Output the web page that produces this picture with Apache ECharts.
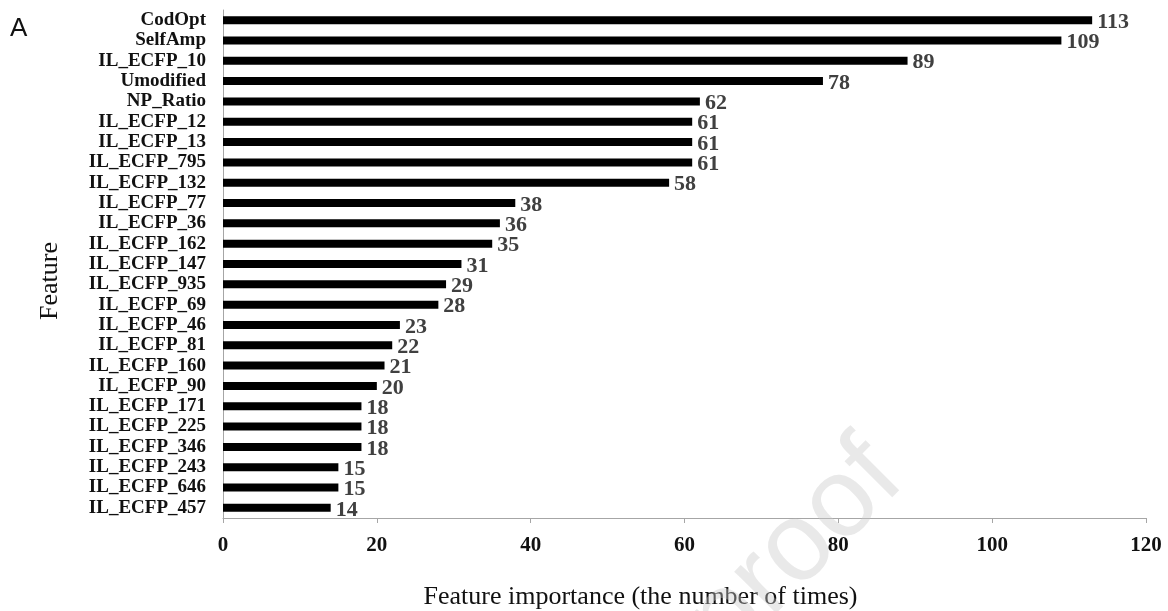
<!DOCTYPE html>
<html>
<head>
<meta charset="utf-8">
<script src="https://cdn.jsdelivr.net/npm/echarts@6/dist/echarts.min.js"></script>
<style>html,body{margin:0;padding:0;background:#fff}#c{width:1168px;height:611px}</style>
</head>
<body>
<div id="c"></div>
<script>
const categories = ["CodOpt","SelfAmp","IL_ECFP_10","Umodified","NP_Ratio","IL_ECFP_12","IL_ECFP_13","IL_ECFP_795","IL_ECFP_132","IL_ECFP_77","IL_ECFP_36","IL_ECFP_162","IL_ECFP_147","IL_ECFP_935","IL_ECFP_69","IL_ECFP_46","IL_ECFP_81","IL_ECFP_160","IL_ECFP_90","IL_ECFP_171","IL_ECFP_225","IL_ECFP_346","IL_ECFP_243","IL_ECFP_646","IL_ECFP_457"];
const importance = [113,109,89,78,62,61,61,61,58,38,36,35,31,29,28,23,22,21,20,18,18,18,15,15,14];
const xTicks = [0,20,40,60,80,100,120];

const serif = '"Liberation Serif","Times New Roman",serif';
const chart = echarts.init(document.getElementById('c'), null, {renderer:'canvas'});
chart.setOption({
  animation:false,
  backgroundColor:'#fff',
  graphic:[
    {type:'text', left:10, top:16, style:{text:'A', font:'26px "Liberation Sans",Arial,sans-serif', fill:'#111'}},
    {type:'text', x:925, y:500, rotation:Math.PI/4, z:100,
      style:{text:'Journal Pre-proof', font:'112px "Liberation Sans",Arial,sans-serif', fill:'rgba(200,200,200,0.4)', textAlign:'right', textVerticalAlign:'bottom'}}
  ],
  grid:{left:223, right:22, top:10, bottom:93, containLabel:false, outerBoundsMode:'none'},
  xAxis:{
    type:'value', min:xTicks[0], max:xTicks[xTicks.length-1], interval:20,
    name:'Feature importance (the number of times)', nameLocation:'middle', nameGap:66,
    nameTextStyle:{fontFamily:serif, fontSize:26, color:'#111', padding:[0,88,0,0]},
    axisLine:{show:true, lineStyle:{color:'#a6a6a6', width:1}},
    axisTick:{show:true, length:5, lineStyle:{color:'#a6a6a6'}},
    axisLabel:{fontFamily:serif, fontWeight:'bold', fontSize:21, color:'#111', margin:17},
    splitLine:{show:false}
  },
  yAxis:{
    type:'category', data:categories, inverse:true,
    name:'Feature', nameLocation:'middle', nameGap:160, nameRotate:90,
    nameTextStyle:{fontFamily:serif, fontSize:26, color:'#111', padding:[0,34,0,0]},
    axisLine:{show:true, lineStyle:{color:'#a6a6a6', width:1}},
    axisTick:{show:false},
    axisLabel:{fontFamily:serif, fontWeight:'bold', fontSize:19, color:'#111', margin:17, interval:0}
  },
  series:[{
    type:'bar', data:importance, barWidth:8,
    itemStyle:{color:'#000'},
    label:{show:true, position:'right', distance:5, offset:[0,2], fontFamily:serif, fontWeight:'bold', fontSize:22, color:'#404040'}
  }]
});
</script>
</body>
</html>
